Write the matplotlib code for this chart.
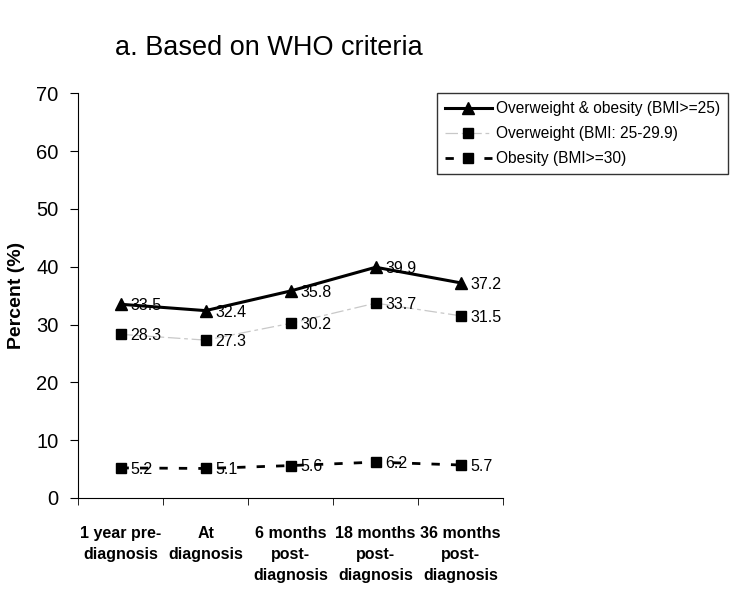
import matplotlib.pyplot as plt
from matplotlib.ticker import FixedLocator, NullFormatter

plt.rcParams['font.family'] = ['Liberation Sans', 'DejaVu Sans']

categories = ["1 year pre-\ndiagnosis", "At\ndiagnosis", "6 months\npost-\ndiagnosis",
              "18 months\npost-\ndiagnosis", "36 months\npost-\ndiagnosis"]
overweight_obesity = [33.5, 32.4, 35.8, 39.9, 37.2]
overweight = [28.3, 27.3, 30.2, 33.7, 31.5]
obesity = [5.2, 5.1, 5.6, 6.2, 5.7]

x = list(range(len(categories)))

fig = plt.figure(figsize=(7.5, 5.9), dpi=100)
ax = fig.add_axes([0.104, 0.156, 0.567, 0.686])

ax.plot(x, overweight_obesity, color='black', lw=2.2, marker='^', markersize=9,
        label='Overweight & obesity (BMI>=25)')
ax.plot(x, overweight, color='#c8c8c8', lw=0.9, dashes=(10, 3, 3, 3), marker='s',
        markersize=7, markerfacecolor='black', markeredgecolor='black',
        label='Overweight (BMI: 25-29.9)')
ax.plot(x, obesity, color='black', lw=2, dashes=(3, 4), marker='s', markersize=7,
        label='Obesity (BMI>=30)')

for series in (overweight_obesity, overweight, obesity):
    for xi, v in zip(x, series):
        ax.annotate(f"{v:.1f}", (xi, v), xytext=(7, -1), textcoords='offset points',
                    va='center', ha='left', fontsize=11.5)

ax.set_xlim(-0.5, 4.5)
ax.set_ylim(0, 70)
ax.set_yticks(range(0, 71, 10))
ax.set_xticks(x)
ax.set_xticklabels(categories, fontsize=11.5, fontweight='bold', linespacing=1.5)
ax.xaxis.set_minor_locator(FixedLocator([i - 0.5 for i in range(len(categories) + 1)]))
ax.xaxis.set_minor_formatter(NullFormatter())
ax.tick_params(axis='x', which='major', length=0, pad=20)
ax.tick_params(axis='x', which='minor', length=5, direction='out')
ax.tick_params(axis='y', labelsize=14.5, length=6, direction='out', pad=8)
ax.spines['top'].set_visible(False)
ax.spines['right'].set_visible(False)
ax.set_ylabel('Percent (%)', fontsize=14, fontweight='bold', labelpad=8)

leg = ax.legend(loc='upper left', bbox_to_anchor=(0.845, 1.0), fontsize=11.2,
                frameon=True, fancybox=False, edgecolor='black', borderpad=0.5,
                borderaxespad=0, handlelength=3.0, handletextpad=0.3,
                labelspacing=0.65)
leg.get_frame().set_linewidth(1)

fig.text(0.153, 0.918, 'a. Based on WHO criteria', fontsize=19.5, ha='left', va='center')

fig.savefig('out.png', dpi=100)
